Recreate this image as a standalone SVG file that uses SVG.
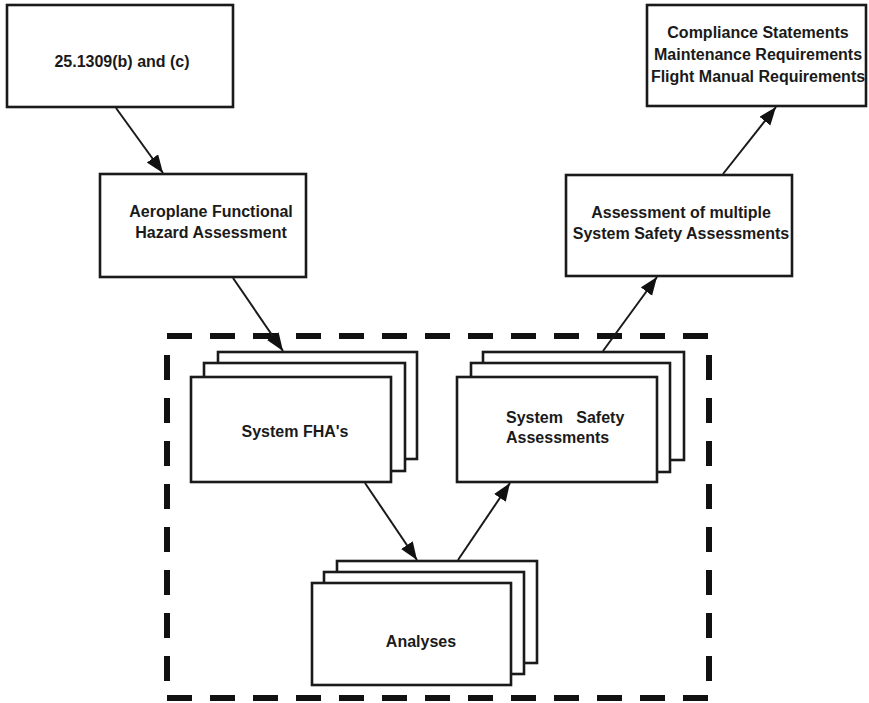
<svg xmlns="http://www.w3.org/2000/svg" width="869" height="703" viewBox="0 0 869 703">
  <style>
    .box { fill: #ffffff; stroke: #1a1a1a; stroke-width: 2.6; }
    .lbl { font-family: "Liberation Sans", Arial, sans-serif; font-size: 16px; font-weight: bold; fill: #1a1a1a; }
    .mid { text-anchor: middle; }
    .edge { fill: none; stroke: #1a1a1a; stroke-width: 2; marker-end: url(#arrow); }
    .dash { fill: none; stroke: #111111; stroke-width: 6; stroke-dasharray: 25 18; }
  </style>
  <defs>
    <marker id="arrow" markerUnits="userSpaceOnUse" markerWidth="19" markerHeight="15" refX="18" refY="7" orient="auto">
      <path d="M0,0 L18,7 L0,14 z" fill="#111111"/>
    </marker>
  </defs>

  <rect width="869" height="703" fill="#ffffff"/>

  <!-- dashed boundary around the system-level work -->
  <g id="boundary">
    <line class="dash" x1="167" y1="336" x2="709" y2="336"/>
    <line class="dash" x1="167" y1="698" x2="709" y2="698"/>
    <line class="dash" x1="167" y1="355" x2="167" y2="681"/>
    <line class="dash" x1="709" y1="355" x2="709" y2="681"/>
  </g>

  <g id="rule">
    <rect class="box" x="7" y="5" width="226" height="102"/>
    <text class="lbl mid" x="122" y="67">25.1309(b) and (c)</text>
  </g>

  <g id="outputs">
    <rect class="box" x="647" y="5" width="219" height="101"/>
    <text class="lbl mid" x="758" y="38">Compliance Statements</text>
    <text class="lbl mid" x="758" y="60">Maintenance Requirements</text>
    <text class="lbl mid" x="758" y="82">Flight Manual Requirements</text>
  </g>

  <g id="afha">
    <rect class="box" x="100" y="174" width="206" height="103"/>
    <text class="lbl mid" x="211" y="217">Aeroplane Functional</text>
    <text class="lbl mid" x="211" y="238">Hazard Assessment</text>
  </g>

  <g id="multi-ssa">
    <rect class="box" x="566" y="175" width="226" height="101"/>
    <text class="lbl mid" x="681" y="218">Assessment of multiple</text>
    <text class="lbl mid" x="681" y="239">System Safety Assessments</text>
  </g>

  <g id="system-fha">
    <rect class="box" x="218" y="352" width="199" height="107"/>
    <rect class="box" x="204" y="363" width="201" height="108"/>
    <rect class="box" x="191" y="377" width="200" height="105"/>
    <text class="lbl mid" x="295" y="437">System FHA's</text>
  </g>

  <g id="system-ssa">
    <rect class="box" x="483" y="352" width="201" height="108"/>
    <rect class="box" x="471" y="363" width="199" height="109"/>
    <rect class="box" x="457" y="377" width="200" height="105"/>
    <text class="lbl" x="506" y="423" xml:space="preserve">System   Safety</text>
    <text class="lbl" x="506" y="443">Assessments</text>
  </g>

  <g id="analyses">
    <rect class="box" x="337" y="561" width="200" height="102"/>
    <rect class="box" x="324" y="572" width="200" height="102"/>
    <rect class="box" x="312" y="583" width="199" height="102"/>
    <text class="lbl mid" x="421" y="647">Analyses</text>
  </g>

  <g id="connectors">
    <line class="edge" x1="116" y1="108" x2="163" y2="173"/>
    <line class="edge" x1="233" y1="278" x2="283" y2="351"/>
    <line class="edge" x1="365" y1="483" x2="417" y2="560"/>
    <line class="edge" x1="458" y1="560" x2="510" y2="483"/>
    <line class="edge" x1="603" y1="351" x2="657" y2="277"/>
    <line class="edge" x1="723" y1="174" x2="776" y2="107"/>
  </g>
</svg>
